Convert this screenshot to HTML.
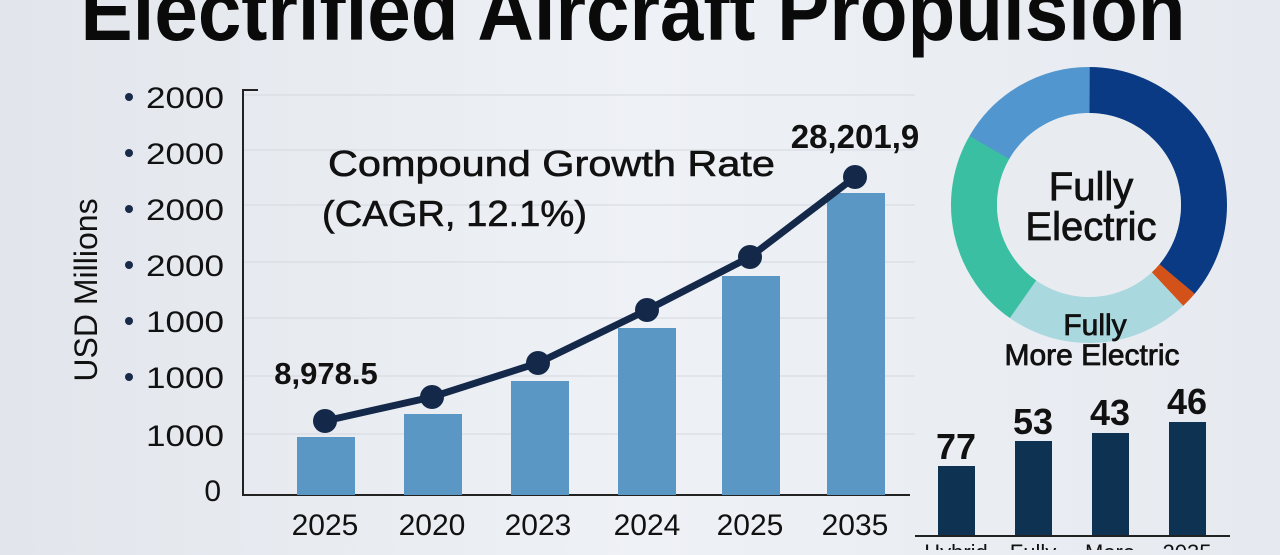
<!DOCTYPE html><html><head><style>
body{margin:0;width:1280px;height:550px;overflow:hidden;background:linear-gradient(90deg,#e2e6ec,#eef1f5 50%,#e6eaf0);font-family:"Liberation Sans",sans-serif}
</style></head><body>
<svg width="1280" height="550" xmlns="http://www.w3.org/2000/svg" font-family="Liberation Sans, sans-serif">
<text x="633" y="40" font-size="84" font-weight="bold" text-anchor="middle" fill="#0a0a0a" textLength="1105" lengthAdjust="spacingAndGlyphs">Electrified Aircraft Propulsion</text>
<g stroke="#d4d9e0" stroke-width="1">
<line x1="244" y1="95" x2="915" y2="95"/><line x1="244" y1="150" x2="915" y2="150"/><line x1="244" y1="205" x2="915" y2="205"/><line x1="244" y1="262" x2="915" y2="262"/><line x1="244" y1="318" x2="915" y2="318"/><line x1="244" y1="376" x2="915" y2="376"/><line x1="244" y1="434" x2="915" y2="434"/>
</g>
<path d="M258 90 H243 V495 H910" fill="none" stroke="#222" stroke-width="2"/>
<g font-size="30" fill="#111">
<circle cx="129" cy="97" r="4" fill="#1a2a4a"/><text x="146" y="108" textLength="78" lengthAdjust="spacingAndGlyphs">2000</text>
<circle cx="129" cy="153" r="4" fill="#1a2a4a"/><text x="146" y="164" textLength="78" lengthAdjust="spacingAndGlyphs">2000</text>
<circle cx="129" cy="209" r="4" fill="#1a2a4a"/><text x="146" y="220" textLength="78" lengthAdjust="spacingAndGlyphs">2000</text>
<circle cx="129" cy="265" r="4" fill="#1a2a4a"/><text x="146" y="276" textLength="78" lengthAdjust="spacingAndGlyphs">2000</text>
<circle cx="129" cy="321" r="4" fill="#1a2a4a"/><text x="146" y="332" textLength="78" lengthAdjust="spacingAndGlyphs">1000</text>
<circle cx="129" cy="377" r="4" fill="#1a2a4a"/><text x="146" y="388" textLength="78" lengthAdjust="spacingAndGlyphs">1000</text>
<text x="146" y="446" textLength="78" lengthAdjust="spacingAndGlyphs">1000</text><text x="221" y="501" text-anchor="end">0</text>
</g>
<text transform="translate(97,290) rotate(-90)" font-size="32" text-anchor="middle" fill="#111">USD Millions</text>
<g fill="#5b97c4">
<rect x="297" y="437" width="58" height="58"/><rect x="404" y="414" width="58" height="81"/><rect x="511" y="381" width="58" height="114"/><rect x="618" y="328" width="58" height="167"/><rect x="722" y="276" width="58" height="219"/><rect x="827" y="193" width="58" height="302"/>
</g>
<polyline points="325,421 432,397 538,363 647,310 750,257 855,177" fill="none" stroke="#14284a" stroke-width="7"/>
<g fill="#14284a"><circle cx="325" cy="421" r="12"/><circle cx="432" cy="397" r="12"/><circle cx="538" cy="363" r="12"/><circle cx="647" cy="310" r="12"/><circle cx="750" cy="257" r="12"/><circle cx="855" cy="177" r="12"/></g>
<g font-size="30" fill="#111" text-anchor="middle">
<text x="325" y="535">2025</text><text x="432" y="535">2020</text><text x="538" y="535">2023</text><text x="647" y="535">2024</text><text x="750" y="535">2025</text><text x="855" y="535">2035</text>
</g>
<text x="326" y="384" font-size="31" font-weight="bold" text-anchor="middle" fill="#111">8,978.5</text>
<text x="855" y="148" font-size="33" font-weight="bold" text-anchor="middle" fill="#111">28,201,9</text>
<text x="328" y="176" font-size="36" fill="#111" textLength="447" lengthAdjust="spacingAndGlyphs" stroke="#111" stroke-width="0.6">Compound Growth Rate</text>
<text x="322" y="226" font-size="36" fill="#111" textLength="265" lengthAdjust="spacingAndGlyphs" stroke="#111" stroke-width="0.6">(CAGR, 12.1%)</text>
<g transform="translate(1089,205)" stroke-width="46" fill="none">
<circle r="115" stroke="#0a3a84" stroke-dasharray="261 1000" transform="rotate(-90)"/>
<circle r="115" stroke="#d2521a" stroke-dasharray="14 1000" transform="rotate(40)"/>
<circle r="115" stroke="#a9d8de" stroke-dasharray="157 1000" transform="rotate(47)"/>
<circle r="115" stroke="#3bbfa2" stroke-dasharray="171 1000" transform="rotate(125)"/>
<circle r="115" stroke="#5196cf" stroke-dasharray="121 1000" transform="rotate(210)"/>
</g>
<circle cx="1089" cy="205" r="92" fill="#e8ecf1"/>
<g font-size="40" fill="#111" text-anchor="middle" stroke="#111" stroke-width="0.8">
<text x="1091" y="200">Fully</text><text x="1091" y="240">Electric</text>
<text x="1095" y="335" font-size="30">Fully</text><text x="1092" y="365" font-size="30">More Electric</text>
</g>
<g fill="#0e3352"><rect x="938" y="466" width="37" height="70"/><rect x="1015" y="441" width="37" height="95"/><rect x="1092" y="433" width="37" height="103"/><rect x="1169" y="422" width="37" height="114"/></g>
<line x1="915" y1="536" x2="1230" y2="536" stroke="#222" stroke-width="2"/>
<g font-size="36" font-weight="bold" fill="#111" text-anchor="middle">
<text x="956" y="459">77</text><text x="1033" y="434">53</text><text x="1110" y="425">43</text><text x="1187" y="414">46</text>
</g>
<g font-size="22" fill="#111" text-anchor="middle"><text x="956" y="560">Hybrid</text><text x="1033" y="560">Fully</text><text x="1110" y="560">More</text><text x="1187" y="560">2035</text></g>
</svg></body></html>
